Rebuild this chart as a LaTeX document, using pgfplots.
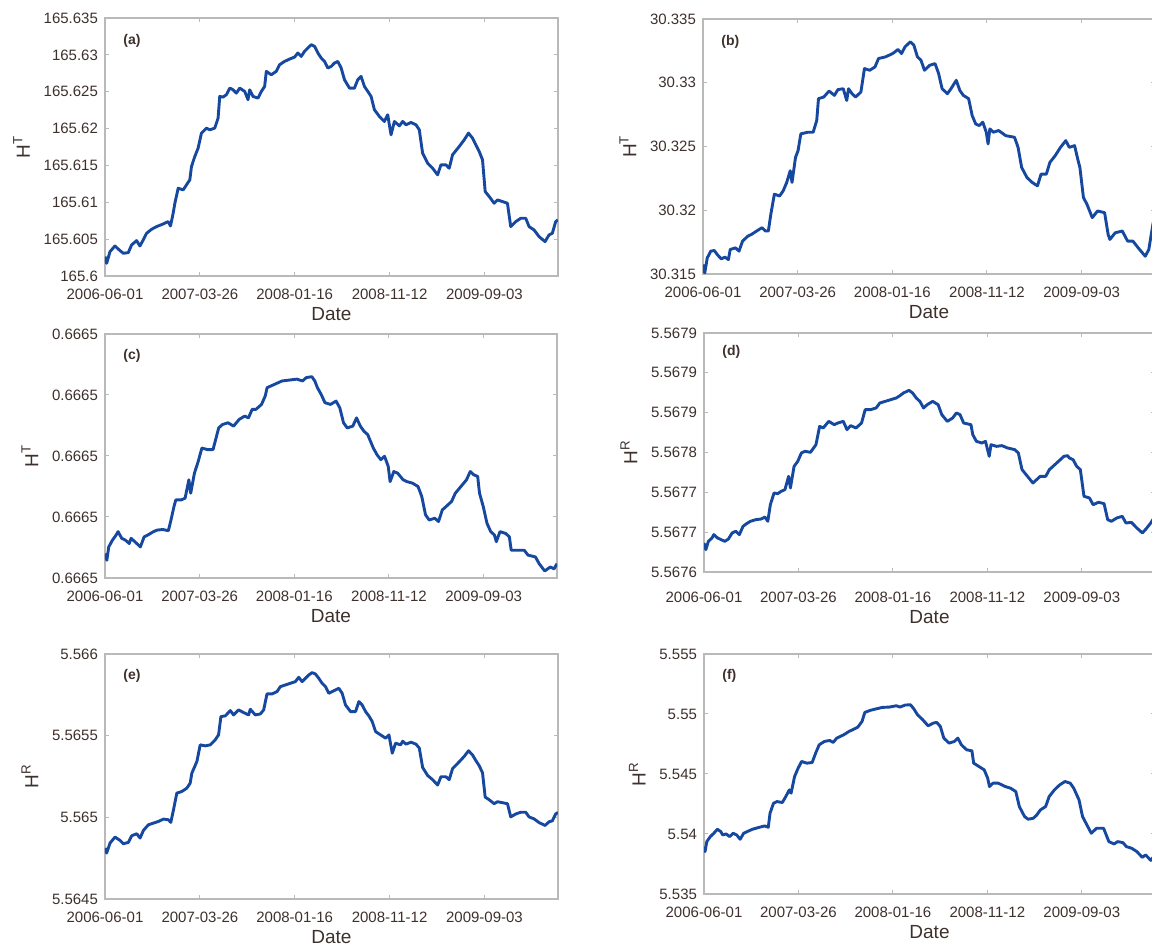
\documentclass[border=0pt]{standalone}
\usepackage{fontspec}
\setmainfont{Liberation Sans}
\usepackage{xfp}
\usepackage{pgfplots}
\usepackage{pgfplotstable}
\pgfplotsset{compat=1.18}
\definecolor{lineblue}{RGB}{22,72,160}
\definecolor{txt}{RGB}{62,48,44}
\definecolor{framegray}{RGB}{185,185,185}

\pgfplotstableread{
x y
0 165.60263
3.5 165.60172
10.5 165.60330
21 165.60407
31.6 165.60344
38.6 165.60308
49.1 165.60317
56.1 165.60421
66.6 165.60480
73.6 165.60407
80.6 165.60489
87.7 165.60579
98.2 165.60634
108.7 165.60670
122.7 165.60706
133.2 165.60738
138.1 165.60679
143.7 165.60851
147.3 165.60987
154.3 165.61191
164.8 165.61168
171.8 165.61236
178.8 165.61304
182.3 165.61485
189.3 165.61621
196.3 165.61734
203.3 165.61938
213.9 165.62006
220.9 165.61983
231.4 165.62006
238.4 165.62142
241.9 165.62436
248.9 165.62427
255.9 165.62459
263.0 165.62549
270.0 165.62526
277.0 165.62481
284.0 165.62549
294.5 165.62504
301.5 165.62391
305.0 165.62526
312.0 165.62436
322.6 165.62413
329.6 165.62504
336.6 165.62572
340.1 165.62776
350.6 165.62730
361.1 165.62776
368.1 165.62866
378.6 165.62911
389.2 165.62943
399.7 165.62970
406.7 165.63025
413.7 165.62979
420.7 165.63047
427.7 165.63092
434.7 165.63138
441.8 165.63115
448.8 165.63025
455.8 165.62957
462.8 165.62911
469.8 165.62821
476.8 165.62843
483.8 165.62889
490.8 165.62911
497.9 165.62821
504.9 165.62662
515.4 165.62549
525.9 165.62549
532.9 165.62662
539.9 165.62708
546.9 165.62572
554.0 165.62504
561.0 165.62436
568.0 165.62255
578.5 165.62164
589.0 165.62096
596.0 165.62187
603.0 165.61915
610.1 165.62096
620.6 165.62037
627.6 165.62096
634.6 165.62051
645.1 165.62083
655.6 165.62051
662.6 165.61983
669.6 165.61666
680.2 165.61530
690.7 165.61462
701.2 165.61372
708.2 165.61508
718.7 165.61508
725.7 165.61462
732.7 165.61644
746.8 165.61757
757.3 165.61847
766.4 165.61938
774.8 165.61870
781.8 165.61779
788.9 165.61689
795.9 165.61576
801.5 165.61145
809.9 165.61078
820.4 165.60987
827.4 165.61032
837.9 165.61010
848.4 165.60987
855.4 165.60670
866.0 165.60738
876.5 165.60783
887.0 165.60783
894.0 165.60670
904.5 165.60625
915.1 165.60534
927.7 165.60466
936.1 165.60557
943.1 165.60579
950.1 165.60738
955 165.60760
}\dataA

\pgfplotstableread{
x y
0 30.31574
3.7 30.31508
9.0 30.31626
16.4 30.31679
23.9 30.31684
31.3 30.31647
38.8 30.31618
46.3 30.31632
53.7 30.31613
57.5 30.31692
68.7 30.31705
76.1 30.31679
83.6 30.31758
94.8 30.31797
102.2 30.31810
113.4 30.31837
124.6 30.31863
132.1 30.31837
138.1 30.31837
143.3 30.31968
150.8 30.32126
161.9 30.32112
169.4 30.32152
176.9 30.32218
184.3 30.32310
188.1 30.32218
195.5 30.32415
200.8 30.32467
206.7 30.32599
221.7 30.32612
232.8 30.32612
240.3 30.32704
244.0 30.32875
255.2 30.32888
266.4 30.32935
277.6 30.32901
285.1 30.32946
296.3 30.32953
303.7 30.32861
307.5 30.32953
314.9 30.32914
322.4 30.32888
333.6 30.32927
341.1 30.33111
352.3 30.33098
363.4 30.33124
370.9 30.33190
385.8 30.33203
400.8 30.33229
412.0 30.33261
419.4 30.33229
426.9 30.33282
438.1 30.33321
445.5 30.33295
453.0 30.33203
460.5 30.33177
467.9 30.33098
479.1 30.33137
490.3 30.33150
497.8 30.33072
505.2 30.32953
516.4 30.32914
523.9 30.32953
535.1 30.33019
542.6 30.32940
550.0 30.32901
561.2 30.32875
568.7 30.32743
576.1 30.32677
583.6 30.32664
591.1 30.32691
598.5 30.32612
602.3 30.32520
606.0 30.32638
613.5 30.32612
624.7 30.32625
639.6 30.32585
658.2 30.32572
665.7 30.32493
673.2 30.32336
684.4 30.32257
695.5 30.32218
706.7 30.32191
714.2 30.32283
725.4 30.32283
732.9 30.32375
744.1 30.32428
755.3 30.32493
766.5 30.32546
773.9 30.32493
785.1 30.32507
792.6 30.32388
796.3 30.32336
803.8 30.32099
811.2 30.32047
822.4 30.31942
833.6 30.31994
848.5 30.31981
856.0 30.31810
859.7 30.31771
870.9 30.31823
885.9 30.31837
897.1 30.31758
908.3 30.31758
919.5 30.31705
934.4 30.31639
941.9 30.31692
951.0 30.31900
955 30.31930
}\dataB

\pgfplotstableread{
x y
0 0.6664680
3.9 0.6664658
7.9 0.6664702
15.7 0.6664724
23.6 0.6664741
27.6 0.6664752
35.4 0.6664730
43.3 0.6664724
51.2 0.6664713
55.1 0.6664730
63.0 0.6664719
74.8 0.6664702
82.7 0.6664735
90.6 0.6664741
102.4 0.6664752
110.2 0.6664757
122.0 0.6664759
133.9 0.6664755
139.4 0.6664790
145.7 0.6664834
149.6 0.6664856
161.4 0.6664856
169.3 0.6664862
177.2 0.6664922
181.1 0.6664878
189.0 0.6664944
196.9 0.6664982
204.7 0.6665026
216.5 0.6665021
228.3 0.6665021
240.2 0.6665092
248.0 0.6665103
259.8 0.6665109
271.7 0.6665098
283.5 0.6665120
295.3 0.6665131
303.1 0.6665125
311.0 0.6665153
318.9 0.6665153
330.7 0.6665169
338.6 0.6665197
342.5 0.6665224
358.3 0.6665235
374.0 0.6665246
389.8 0.6665249
405.5 0.6665252
417.3 0.6665246
425.2 0.6665257
437.0 0.6665260
443.3 0.6665246
448.8 0.6665224
456.7 0.6665202
464.6 0.6665175
476.4 0.6665169
488.2 0.6665180
496.1 0.6665158
503.9 0.6665109
511.8 0.6665092
523.6 0.6665098
531.5 0.6665125
539.4 0.6665098
547.2 0.6665081
555.1 0.6665070
566.9 0.6665026
574.8 0.6665004
582.7 0.6664988
590.6 0.6664999
598.4 0.6664966
602.4 0.6664916
610.2 0.6664949
618.1 0.6664944
629.9 0.6664922
637.8 0.6664916
649.6 0.6664911
661.4 0.6664900
669.3 0.6664867
677.2 0.6664807
685.0 0.6664790
696.8 0.6664796
704.7 0.6664785
712.6 0.6664823
720.5 0.6664834
732.3 0.6664851
740.2 0.6664878
752.0 0.6664900
763.8 0.6664922
771.7 0.6664949
779.5 0.6664938
787.4 0.6664933
791.3 0.6664878
799.2 0.6664834
807.1 0.6664779
815.0 0.6664752
822.8 0.6664741
826.8 0.6664719
834.6 0.6664752
846.5 0.6664746
854.3 0.6664735
858.3 0.6664691
870.1 0.6664691
885.8 0.6664691
893.7 0.6664675
909.4 0.6664669
917.3 0.6664647
929.1 0.6664623
940.9 0.6664636
948.8 0.6664630
955 0.6664647
}\dataC

\pgfplotstableread{
x y
0 5.5676364
3.9 5.5676280
9.3 5.5676385
17.0 5.5676427
20.8 5.5676469
28.6 5.5676427
36.3 5.5676406
44.0 5.5676385
51.7 5.5676414
59.5 5.5676490
67.2 5.5676511
74.9 5.5676469
82.6 5.5676573
90.3 5.5676607
98.1 5.5676636
109.7 5.5676657
121.2 5.5676665
129.0 5.5676690
135.1 5.5676636
140.5 5.5676845
148.3 5.5676992
156.0 5.5676983
163.7 5.5677013
171.4 5.5677034
179.2 5.5677201
183.0 5.5677054
190.7 5.5677326
198.5 5.5677389
206.2 5.5677494
213.9 5.5677515
225.5 5.5677502
237.1 5.5677598
244.8 5.5677828
252.5 5.5677808
264.1 5.5677891
275.7 5.5677849
283.4 5.5677870
295.0 5.5677891
302.7 5.5677787
310.4 5.5677837
322.0 5.5677808
333.6 5.5677870
341.3 5.5678038
352.9 5.5678038
364.5 5.5678059
372.2 5.5678121
383.8 5.5678142
395.4 5.5678163
407.0 5.5678184
414.7 5.5678213
422.4 5.5678247
434.0 5.5678280
441.7 5.5678247
449.4 5.5678184
457.1 5.5678142
464.9 5.5678059
472.6 5.5678100
484.2 5.5678142
495.8 5.5678100
503.5 5.5677975
515.1 5.5677891
526.6 5.5677933
534.4 5.5677996
542.1 5.5677975
549.8 5.5677870
565.3 5.5677849
569.1 5.5677724
576.8 5.5677640
588.4 5.5677619
596.1 5.5677640
603.9 5.5677452
607.7 5.5677598
619.3 5.5677577
630.9 5.5677586
642.5 5.5677557
657.9 5.5677536
665.6 5.5677494
673.4 5.5677285
684.9 5.5677201
696.5 5.5677117
704.3 5.5677159
712.0 5.5677201
723.6 5.5677201
731.3 5.5677285
739.0 5.5677326
750.6 5.5677389
762.2 5.5677452
769.9 5.5677460
773.7 5.5677431
781.5 5.5677410
789.2 5.5677326
796.9 5.5677285
804.6 5.5676950
816.2 5.5676929
823.9 5.5676845
835.5 5.5676875
847.1 5.5676858
854.8 5.5676657
862.6 5.5676636
874.1 5.5676678
885.7 5.5676699
893.4 5.5676615
905.0 5.5676623
916.6 5.5676552
928.2 5.5676490
935.9 5.5676540
945.9 5.5676615
955 5.5676700
}\dataD

\pgfplotstableread{
x y
0 5.5648118
3.5 5.5647812
10.6 5.5648424
21.1 5.5648791
31.7 5.5648587
38.7 5.5648383
49.3 5.5648465
56.3 5.5648872
66.9 5.5648994
73.9 5.5648730
81.0 5.5649198
91.5 5.5649545
102.1 5.5649647
112.7 5.5649749
123.2 5.5649891
133.8 5.5649850
138.7 5.5649687
144.4 5.5650462
151.4 5.5651481
162.0 5.5651583
172.5 5.5651787
179.6 5.5652092
183.1 5.5652704
193.7 5.5653417
200.7 5.5654436
211.3 5.5654375
221.8 5.5654436
232.4 5.5654742
239.4 5.5655047
244.4 5.5656168
253.5 5.5656209
264.1 5.5656535
271.1 5.5656270
281.7 5.5656576
292.2 5.5656413
302.8 5.5656270
306.3 5.5656617
316.9 5.5656270
327.5 5.5656331
334.5 5.5656576
341.5 5.5657554
352.1 5.5657554
362.7 5.5657697
369.7 5.5658002
380.3 5.5658104
390.8 5.5658206
401.4 5.5658308
408.4 5.5658573
415.5 5.5658308
422.5 5.5658512
429.6 5.5658716
436.6 5.5658858
443.6 5.5658777
450.7 5.5658512
457.7 5.5658206
464.8 5.5658002
471.8 5.5657595
478.9 5.5657697
485.9 5.5657799
492.9 5.5657901
500.0 5.5657595
507.0 5.5656882
517.6 5.5656474
528.2 5.5656474
535.2 5.5657085
542.2 5.5656882
549.3 5.5656474
556.3 5.5656209
563.4 5.5655862
570.4 5.5655251
581.0 5.5655047
591.5 5.5654844
598.6 5.5655047
605.6 5.5653926
612.7 5.5654538
623.2 5.5654436
627.6 5.5654660
634.6 5.5654480
645.1 5.5654600
655.6 5.5654480
662.6 5.5654240
669.6 5.5653055
680.2 5.5652560
690.7 5.5652305
701.2 5.5651975
708.2 5.5652485
718.7 5.5652485
725.7 5.5652305
732.7 5.5652980
746.8 5.5653400
757.3 5.5653730
766.4 5.5654075
774.8 5.5653820
781.8 5.5653475
788.9 5.5653160
795.9 5.5652725
801.5 5.5651240
809.9 5.5651075
820.4 5.5650835
827.4 5.5650955
837.9 5.5650895
848.4 5.5650835
855.4 5.5650025
866.0 5.5650205
876.5 5.5650310
887.0 5.5650310
894.0 5.5650025
904.5 5.5649905
915.1 5.5649680
927.7 5.5649500
936.1 5.5649725
943.1 5.5649785
950.1 5.5650205
955 5.5650300
}\dataE

\pgfplotstableread{
x y
0 5.538948
2.2 5.538531
5.9 5.539365
13.4 5.539782
20.8 5.540061
28.3 5.540394
35.7 5.540200
39.4 5.539922
46.8 5.540005
54.3 5.539782
61.7 5.540061
69.1 5.539922
76.6 5.539560
84.0 5.540061
91.5 5.540200
102.6 5.540394
117.5 5.540561
128.6 5.540673
136.1 5.540561
139.8 5.541730
147.2 5.542564
154.6 5.542704
165.8 5.542620
173.2 5.543121
180.7 5.543677
184.4 5.543399
191.8 5.544790
199.3 5.545486
206.7 5.546042
217.8 5.545903
229.0 5.545958
236.4 5.546737
243.9 5.547433
255.0 5.547711
266.2 5.547795
273.6 5.547628
281.0 5.547989
288.5 5.548128
295.9 5.548268
307.1 5.548546
314.5 5.548685
325.7 5.548907
334.6 5.549380
340.5 5.550131
351.7 5.550298
362.8 5.550410
377.7 5.550549
392.6 5.550577
407.4 5.550688
414.9 5.550577
426.0 5.550744
437.2 5.550771
444.6 5.550410
452.1 5.549937
463.2 5.549519
474.4 5.549019
485.5 5.549241
492.9 5.549297
500.4 5.548963
507.8 5.547989
519.0 5.547572
530.1 5.547711
537.5 5.547989
545.0 5.547433
556.1 5.547016
567.3 5.546932
571.0 5.545903
582.2 5.545625
593.3 5.545346
600.7 5.544651
604.5 5.543955
611.9 5.544234
623.1 5.544234
637.9 5.543955
649.1 5.543816
660.2 5.543538
667.7 5.542286
678.8 5.541452
686.2 5.541229
697.4 5.541313
704.8 5.541591
712.3 5.542008
723.4 5.542286
730.9 5.543121
742.0 5.543677
753.2 5.544094
764.3 5.544373
775.5 5.544234
782.9 5.543816
794.1 5.542843
801.5 5.541452
812.6 5.540617
820.1 5.540061
831.2 5.540478
846.1 5.540478
857.3 5.539365
868.4 5.539170
875.8 5.539365
887.0 5.539282
894.4 5.538948
905.6 5.538809
916.7 5.538531
927.9 5.538057
935.3 5.538252
941.3 5.538000
946.0 5.537800
952.0 5.538100
955 5.538300
}\dataF

\pgfplotsset{
  panel/.style={
    scale only axis,
    xmin=0, xmax=955,
    xtick={0,200,400,600,800},
    xticklabels={2006-06-01,2007-03-26,2008-01-16,2008-11-12,2009-09-03},
    tick align=inside,
    major tick length=2.2pt,
    axis line style={framegray, line width=0.6pt},
    tick style={framegray, line width=0.5pt},
    tick label style={font=\fontsize{7.5}{9}\selectfont, text=txt},
    xticklabel style={yshift=-3pt},
    label style={font=\fontsize{9.5}{11}\selectfont, text=txt},
    xlabel style={yshift=3pt},
    xlabel={Date},
    scaled y ticks=false,
    scaled x ticks=false,
  },
  curve/.style={lineblue, line width=1.45pt, line join=round, mark=none},
}
\tikzset{plab/.style={anchor=west, font=\bfseries\fontsize{7}{8}\selectfont, text=txt}}

\begin{document}
\begin{tikzpicture}
\path[use as bounding box] (0pt,0pt) rectangle (576pt,473pt);

% (a)
\begin{axis}[panel, at={(52.5pt,335pt)}, anchor=south west, width=226.5pt, height=129pt,
  y coord trafo/.code={\edef\pgfmathresult{\fpeval{(#1-165.6)*1000}}},
  ymin=165.6, ymax=165.635,
  ytick={165.6,165.605,165.61,165.615,165.62,165.625,165.63,165.635},
  yticklabels={165.6,165.605,165.61,165.615,165.62,165.625,165.63,165.635},
  ylabel={H\textsuperscript{T}}]
\addplot[curve] table {\dataA};
\node[plab] at (axis description cs:0.025,0.91) {(a)};
\end{axis}

% (b)
\begin{axis}[panel, at={(351.5pt,336pt)}, anchor=south west, width=226pt, height=127.5pt,
  y coord trafo/.code={\edef\pgfmathresult{\fpeval{(#1-30.315)*1000}}},
  ymin=30.315, ymax=30.335,
  ytick={30.315,30.32,30.325,30.33,30.335},
  yticklabels={30.315,30.32,30.325,30.33,30.335},
  ylabel={H\textsuperscript{T}}]
\addplot[curve] table {\dataB};
\node[plab] at (axis description cs:0.025,0.91) {(b)};
\end{axis}

% (c)
\begin{axis}[panel, at={(52.5pt,184pt)}, anchor=south west, width=226pt, height=122pt,
  y coord trafo/.code={\edef\pgfmathresult{\fpeval{(#1-0.66646)*1000000}}},
  ymin=0.66646, ymax=0.66654,
  ytick={0.66646,0.66648,0.6665,0.66652,0.66654},
  yticklabels={0.6665,0.6665,0.6665,0.6665,0.6665},
  ylabel={H\textsuperscript{T}}]
\addplot[curve] table {\dataC};
\node[plab] at (axis description cs:0.025,0.91) {(c)};
\end{axis}

% (d)
\begin{axis}[panel, at={(352pt,187pt)}, anchor=south west, width=225.5pt, height=119.5pt,
  y coord trafo/.code={\edef\pgfmathresult{\fpeval{(#1-5.5676)*1000000}}},
  ymin=5.5676, ymax=5.5679,
  ytick={5.5676,5.56765,5.5677,5.56775,5.5678,5.56785,5.5679},
  yticklabels={5.5676,5.5677,5.5677,5.5678,5.5679,5.5679,5.5679},
  xticklabel style={yshift=-3.5pt},
  ylabel={H\textsuperscript{R}}]
\addplot[curve] table {\dataD};
\node[plab] at (axis description cs:0.025,0.92) {(d)};
\end{axis}

% (e)
\begin{axis}[panel, at={(52.5pt,23.5pt)}, anchor=south west, width=226.5pt, height=122.5pt,
  y coord trafo/.code={\edef\pgfmathresult{\fpeval{(#1-5.5645)*100000}}},
  ymin=5.5645, ymax=5.566,
  ytick={5.5645,5.565,5.5655,5.566},
  yticklabels={5.5645,5.565,5.5655,5.566},
  ylabel={H\textsuperscript{R}}]
\addplot[curve] table {\dataE};
\node[plab] at (axis description cs:0.025,0.91) {(e)};
\end{axis}

% (f)
\begin{axis}[panel, at={(352pt,26pt)}, anchor=south west, width=225.5pt, height=120pt,
  y coord trafo/.code={\edef\pgfmathresult{\fpeval{(#1-5.535)*1000}}},
  ymin=5.535, ymax=5.555,
  ytick={5.535,5.54,5.545,5.55,5.555},
  yticklabels={5.535,5.54,5.545,5.55,5.555},
  ylabel={H\textsuperscript{R}}]
\addplot[curve] table {\dataF};
\node[plab] at (axis description cs:0.025,0.91) {(f)};
\end{axis}

\end{tikzpicture}
\end{document}
